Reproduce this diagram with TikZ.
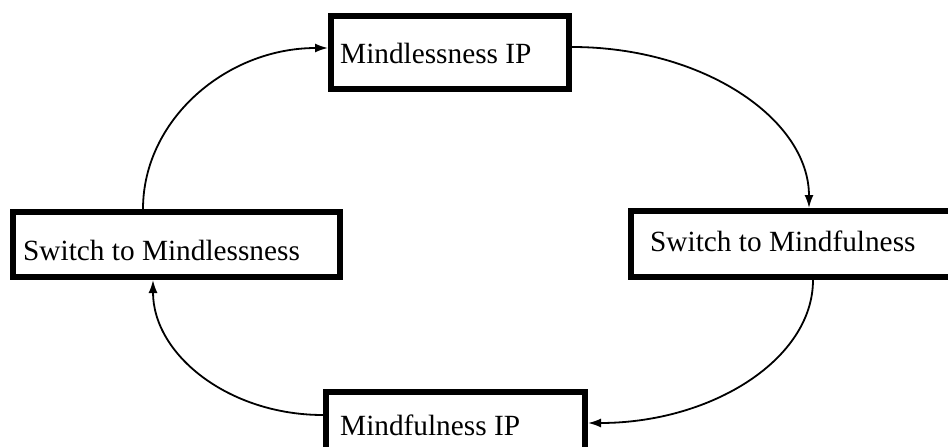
\documentclass[tikz,border=0pt]{standalone}
\usepackage{fontspec}
\setmainfont{Liberation Serif}
\usetikzlibrary{arrows.meta}
\begin{document}
\begin{tikzpicture}[x=1pt,y=1pt,
  box/.style={draw=black, line width=6pt, rectangle, inner sep=0pt, fill=none},
  lbl/.style={anchor=base west, inner sep=0pt, font=\fontsize{29.3pt}{32pt}\selectfont},
  arr/.style={draw=black, line width=1.8pt, -{Latex[length=13pt,width=9pt]}}]
\useasboundingbox (0,0) rectangle (948,-447);
\fill[white] (0,0) rectangle (948,-447);
% boxes
\node[box, minimum width=238pt, minimum height=73pt] (A) at (450,-52.5) {};
\node[box, minimum width=327pt, minimum height=65pt] (B) at (176.5,-244.5) {};
\node[box, minimum width=334pt, minimum height=66pt] (C) at (798,-244) {};
\node[box, minimum width=259pt, minimum height=73pt] (D) at (455.5,-428.5) {};
% labels
\node[lbl] (tA) at (340,-63) {Mindlessness IP};
\node[lbl] (tB) at (23,-260) {Switch to Mindlessness};
\node[lbl] (tC) at (650,-251) {Switch to Mindfulness};
\node[lbl] (tD) at (340,-435) {Mindfulness IP};
% connectors
\draw[arr] ([xshift=-33.5pt]B.north) .. controls +(0,89) and +(-102,0) .. ([yshift=4.5pt]A.west);
\draw[arr] ([yshift=5.5pt]A.east) .. controls +(131,0) and +(0,89) .. ([xshift=11pt]C.north);
\draw[arr] ([xshift=15pt]C.south) .. controls +(0,-79) and +(124,0) .. ([yshift=5.5pt]D.east);
\draw[arr] ([yshift=13.5pt]D.west) .. controls +(-94,0) and +(0,-75) .. ([xshift=-23.5pt]B.south);
\end{tikzpicture}
\end{document}
